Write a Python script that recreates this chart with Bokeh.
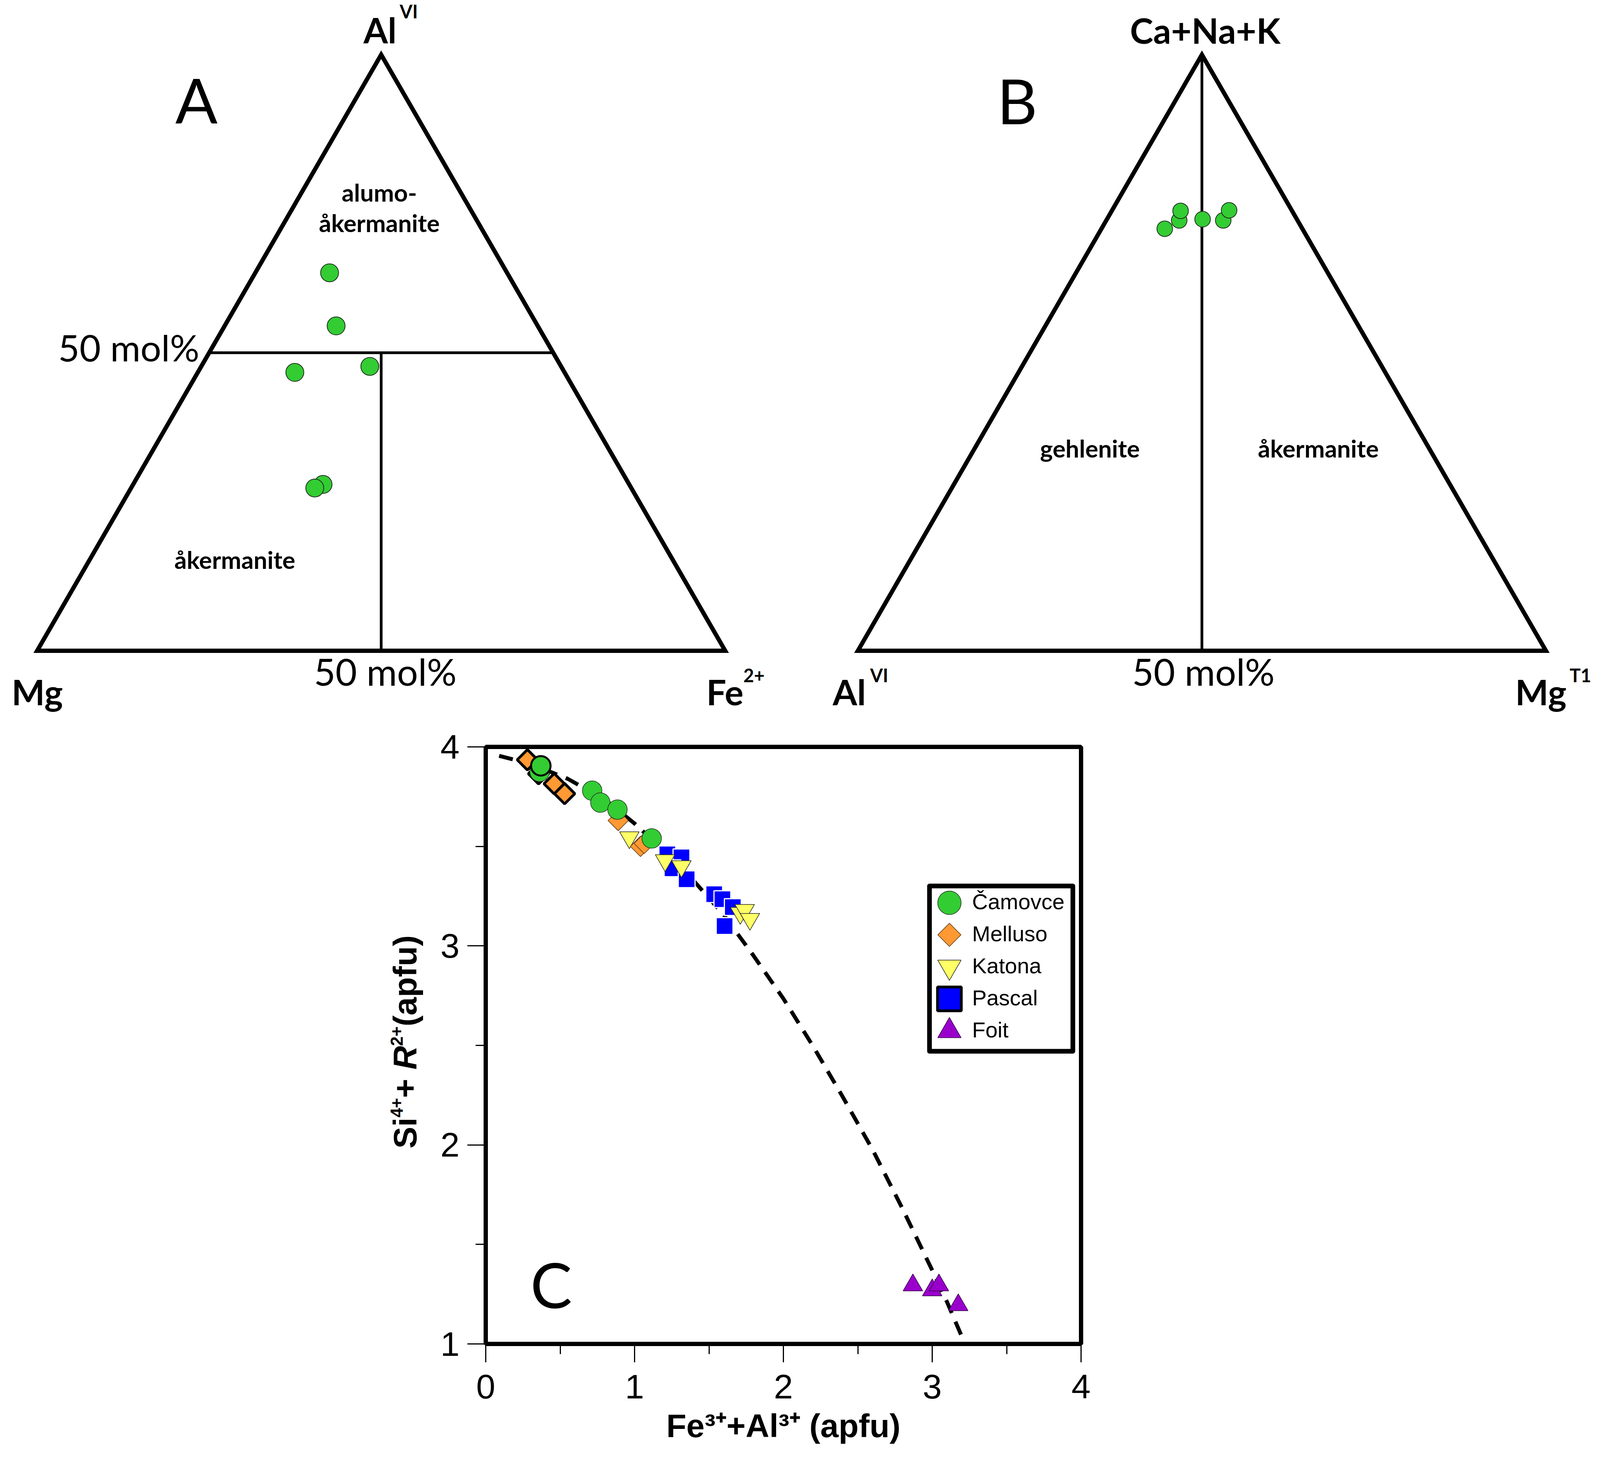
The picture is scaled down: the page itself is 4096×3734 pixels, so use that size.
import math
from bokeh.plotting import figure
from bokeh.models import Range1d, Label, FixedTicker
from bokeh.layouts import column, row
from bokeh.embed import file_html
from bokeh.resources import INLINE

# ================= DATA =================
# Ternary A : Al(VI) top, Mg left, Fe2+ right (fractions)
A_AL = [0.634, 0.545, 0.467, 0.477, 0.279, 0.273]
A_FE = [0.108, 0.162, 0.141, 0.245, 0.276, 0.267]
A_MG = [0.258, 0.293, 0.392, 0.278, 0.445, 0.460]

# Ternary B : Ca+Na+K top, Al(VI) left, Mg(T1) right (fractions)
B_CNK = [0.708, 0.722, 0.738, 0.724, 0.722, 0.739]
B_MGT1 = [0.092, 0.106, 0.100, 0.139, 0.170, 0.170]
B_ALVI = [0.200, 0.172, 0.162, 0.137, 0.108, 0.091]

# Plot C : Fe3+ + Al3+ (apfu) vs Si4+ + R2+ (apfu)
CAMOVCE_X = [0.370, 0.362, 0.715, 0.770, 0.885, 1.115]
CAMOVCE_Y = [3.905, 3.875, 3.780, 3.720, 3.685, 3.540]
MELLUSO_X = [0.280, 0.355, 0.460, 0.530, 0.890, 1.040, 1.065]
MELLUSO_Y = [3.935, 3.865, 3.815, 3.765, 3.630, 3.500, 3.515]
KATONA_X = [0.965, 1.205, 1.315, 1.710, 1.740, 1.775]
KATONA_Y = [3.545, 3.430, 3.400, 3.165, 3.180, 3.135]
PASCAL_X = [1.220, 1.315, 1.255, 1.350, 1.535, 1.590, 1.660, 1.605]
PASCAL_Y = [3.460, 3.445, 3.390, 3.335, 3.260, 3.235, 3.195, 3.100]
FOIT_X = [2.870, 3.000, 3.045, 3.175]
FOIT_Y = [1.295, 1.270, 1.295, 1.195]
CURVE_X = [0.09, 0.30, 0.55, 0.80, 1.00, 1.20, 1.40, 1.60, 1.80, 2.00,
           2.20, 2.40, 2.60, 2.80, 3.00, 3.10, 3.22]
CURVE_Y = [3.955, 3.915, 3.840, 3.735, 3.615, 3.475, 3.325, 3.155, 2.950, 2.735,
           2.495, 2.240, 1.975, 1.680, 1.370, 1.210, 1.000]
X_TICKS = [0, 1, 2, 3, 4]
X_MINOR = [0.5, 1.5, 2.5, 3.5]
Y_TICKS = [1, 2, 3, 4]
Y_MINOR = [1.5, 2.5, 3.5]
SERIES = ["Čamovce", "Melluso", "Katona", "Pascal", "Foit"]
X_TITLE = "Fe³⁺+Al³⁺ (apfu)"

# ================= STYLE / LAYOUT =================
S = 0.946                 # scale to reference
W, H = 4096, 3734
TOP_H = 1838
CORR = 0.41               # text baseline correction (em)
GREEN, ORANGE, YELLOW, BLUE, PURPLE = "#33cc33", "#ff9933", "#ffff66", "#0000ff", "#9900cc"
EDGE = "#1f2f1f"

TRI_A = (100.0, 1760.0, 1862.0)   # x0, y0, side (reference pixel frame)
TRI_B = (2321.0, 1760.0, 1862.0)


def tern(right, top_, tri):
    x0, y0, side = tri
    return x0 + side * (right + top_ / 2.0), y0 - side * top_ * math.sqrt(3) / 2.0


def blank(width, height, xr, yr):
    f = figure(width=width, height=height, x_range=xr, y_range=yr,
               output_backend="svg", toolbar_location=None,
               x_axis_location=None, y_axis_location=None, min_border=0)
    f.grid.visible = False
    f.outline_line_color = None
    f.background_fill_color = "white"
    f.border_fill_color = "white"
    return f


top = blank(W, TOP_H, Range1d(0, W / S), Range1d(TOP_H / S, 0))


def draw_tri(tri):
    pts = [tern(0, 0, tri), tern(1, 0, tri), tern(0, 1, tri)]
    top.patch([p[0] for p in pts], [p[1] for p in pts], fill_color=None,
              line_color="black", line_width=11, line_join="miter")


def seg(a, b, tri, lw=7):
    p1 = tern(a[0], a[1], tri)
    p2 = tern(b[0], b[1], tri)
    top.line([p1[0], p2[0]], [p1[1], p2[1]], line_color="black", line_width=lw)


draw_tri(TRI_A)
seg((0, 0.5), (0.5, 0.5), TRI_A)
seg((0.25, 0.5), (0.5, 0.0), TRI_A)
draw_tri(TRI_B)
seg((0, 1), (0.5, 0), TRI_B)

ax, ay = [], []
for al, fe, mg in zip(A_AL, A_FE, A_MG):
    t = al + fe + mg
    px, py = tern(fe / t, al / t, TRI_A)
    ax.append(px); ay.append(py)
top.scatter(ax, ay, marker="circle", size=46, fill_color=GREEN,
            line_color=EDGE, line_width=2)

bx, by = [], []
for c, m, a in zip(B_CNK, B_MGT1, B_ALVI):
    t = c + m + a
    px, py = tern(m / t, c / t, TRI_B)
    bx.append(px); by.append(py)
top.scatter(bx, by, marker="circle", size=40, fill_color=GREEN,
            line_color=EDGE, line_width=2)


def add_label(fig, text, x, y, size, style="normal", align="left", font="Lato",
              angle=0.0):
    fig.add_layout(Label(x=x, y=y, text=text, text_font=font,
                         text_font_size=f"{size}px", text_font_style=style,
                         text_align=align, text_baseline="alphabetic",
                         angle=angle, text_color="black"))


TOP_TEXT = [
    ("Al", 983, 119, 90, "bold", "left"),
    ("VI", 1081, 51, 47, "bold", "left"),
    ("A", 531, 337, 160, "normal", "center"),
    ("alumo-", 1026, 546, 62, "bold", "center"),
    ("åkermanite", 1026, 629, 62, "bold", "center"),
    ("50 mol%", 348, 979, 94, "normal", "center"),
    ("åkermanite", 635, 1540, 62, "bold", "center"),
    ("Mg", 31, 1909, 90, "bold", "left"),
    ("50 mol%", 1042, 1857, 95, "normal", "center"),
    ("Fe", 1911, 1909, 90, "bold", "left"),
    ("2+", 2011, 1847, 47, "bold", "left"),
    ("Ca+Na+K", 3261, 120, 90, "bold", "center"),
    ("B", 2752, 339, 160, "normal", "center"),
    ("gehlenite", 2949, 1239, 62, "bold", "center"),
    ("åkermanite", 3567, 1239, 62, "bold", "center"),
    ("Al", 2253, 1909, 90, "bold", "left"),
    ("VI", 2354, 1847, 47, "bold", "left"),
    ("50 mol%", 3256, 1857, 95, "normal", "center"),
    ("Mg", 4100, 1909, 90, "bold", "left"),
    ("T1", 4247, 1847, 47, "bold", "left"),
]
for txt, x, y, sz, st, al in TOP_TEXT:
    # y is in reference px (downwards); shift up by the baseline correction
    add_label(top, txt, x, y - CORR * sz / S, sz, st, al)

# ================= PLOT C =================
FL, FR, FT = 135, 30, 73
FW, FH = 1524, 1528
BOT_H = H - TOP_H
FB = BOT_H - FT - FH
YW = 1108
pc = figure(width=FL + FW + FR, height=BOT_H, x_range=Range1d(0, 4),
            y_range=Range1d(1, 4), output_backend="svg", toolbar_location=None,
            min_border_left=FL, min_border_right=FR, min_border_top=FT,
            min_border_bottom=FB)
pc.grid.visible = False
pc.outline_line_color = "black"
pc.outline_line_width = 11
pc.background_fill_color = "white"
pc.border_fill_color = "white"
pc.xaxis.ticker = FixedTicker(ticks=X_TICKS, minor_ticks=X_MINOR)
pc.yaxis.ticker = FixedTicker(ticks=Y_TICKS, minor_ticks=Y_MINOR)
for axis in (pc.xaxis, pc.yaxis):
    axis.axis_line_width = 11
    axis.axis_line_color = "black"
    axis.major_tick_line_width = 3
    axis.minor_tick_line_width = 3
    axis.major_tick_out = 47
    axis.major_tick_in = 0
    axis.minor_tick_out = 26
    axis.minor_tick_in = 0
    axis.major_label_text_font = "Liberation Sans"
    axis.major_label_text_font_size = "88px"
    axis.major_label_text_color = "black"
pc.xaxis.major_label_standoff = 32
pc.yaxis.major_label_standoff = 20
pc.xaxis.axis_label = X_TITLE
pc.xaxis.axis_label_text_font = "Liberation Sans"
pc.xaxis.axis_label_text_font_style = "bold"
pc.xaxis.axis_label_text_font_size = "84px"
pc.xaxis.axis_label_text_color = "black"
pc.xaxis.axis_label_standoff = 20

pc.line(CURVE_X, CURVE_Y, line_color="black", line_width=10, line_dash="36 24")

pc.scatter(FOIT_X, FOIT_Y, marker="triangle", size=50, fill_color=PURPLE,
           line_color="#330044", line_width=1.5)
pc.scatter(PASCAL_X, PASCAL_Y, marker="square", size=43, fill_color=BLUE,
           line_color="white", line_width=3)
pc.scatter(KATONA_X, KATONA_Y, marker="inverted_triangle", size=50, fill_color=YELLOW,
           line_color="#222222", line_width=1.5)
pc.scatter(MELLUSO_X, MELLUSO_Y, marker="square", angle=math.pi / 4, size=37,
           fill_color=ORANGE, line_color="#553311", line_width=1.5)
pc.scatter(MELLUSO_X[:4], MELLUSO_Y[:4], marker="square", angle=math.pi / 4, size=37,
           fill_color=ORANGE, line_color="black", line_width=7)
pc.scatter(CAMOVCE_X[1:], CAMOVCE_Y[1:], marker="circle", size=50, fill_color=GREEN,
           line_color=EDGE, line_width=1.5)
pc.scatter(CAMOVCE_X[:1], CAMOVCE_Y[:1], marker="circle", size=50, fill_color=GREEN,
           line_color="black", line_width=5)


# ---- legend box (drawn in the frame; layout given in frame pixels) ----
def fx(px):
    return px / FW * 4.0


def fy(py):
    return 1.0 + py / FH * 3.0


LEG_L, LEG_R, LEG_B, LEG_T = 1136, 1503, 749, 1172
ROW0, ROW_STEP, GLYPH_X, TEXT_X = 43, 82, 1187, 1245
pc.quad(left=[fx(LEG_L)], right=[fx(LEG_R)], bottom=[fy(LEG_B)], top=[fy(LEG_T)],
        fill_color="white", line_color="black", line_width=12, line_join="round")
LEG_STYLE = [
    dict(marker="circle", size=60, fill_color=GREEN, line_color=EDGE, line_width=1.5),
    dict(marker="square", angle=math.pi / 4, size=42, fill_color=ORANGE,
         line_color="#553311", line_width=1.5),
    dict(marker="inverted_triangle", size=60, fill_color=YELLOW, line_color="#222222",
         line_width=1.5),
    dict(marker="square", size=61, fill_color=BLUE, line_color="black", line_width=7),
    dict(marker="triangle", size=60, fill_color=PURPLE, line_color="#330044",
         line_width=1.5),
]
for i, (name, st) in enumerate(zip(SERIES, LEG_STYLE)):
    cy = LEG_T - ROW0 - i * ROW_STEP
    pc.scatter([fx(GLYPH_X)], [fy(cy)], **st)
    base = cy - 0.358 * 56 + CORR * 56
    add_label(pc, name, fx(TEXT_X), fy(base), 56, "normal", "left", "Liberation Sans")

# "C" panel letter (baseline at ~0.173 above y=1 in data units)
add_label(pc, "C", 0.44, 1.173 + CORR * 160 / FH * 3.0, 160, "normal", "center")

# ---- y axis title in its own blank panel (left of plot C); its frame is
# aligned with the frame of plot C, so y is measured from the frame bottom ----
yfig = blank(YW, BOT_H, Range1d(0, YW), Range1d(0, FH))
yfig.min_border_top = FT
yfig.min_border_bottom = FB
AW = {'+': 584, ' ': 278, '(': 333, 'a': 556, 'p': 611, 'f': 333, 'u': 611, ')': 333,
      'S': 667, 'i': 278, 'R': 722, '2': 556, '4': 556}
MAIN, SUP, RAISE = 84, 44, 38


def tw(s, size):
    return sum(AW[c] for c in s) * size / 1000.0


yparts = [("Si", False, "bold"), ("4+", True, "bold"), ("+ ", False, "bold"),
          ("R", False, "bold italic"), ("2+", True, "bold"), (" (apfu)", False, "bold")]
Y_BASE_X = 1071          # baseline (page x) of the rotated title
cy = 500                 # start (px above the bottom of the frame)
for t, sup, st in yparts:
    sz = SUP if sup else MAIN
    bx_ = Y_BASE_X - (RAISE if sup else 0) - CORR * sz
    add_label(yfig, t, bx_, cy, sz, st, "left", "Liberation Sans", math.pi / 2)
    cy += tw(t, sz)

layout = column(top, row(yfig, pc))
open("out.html", "w").write(file_html(layout, INLINE))
